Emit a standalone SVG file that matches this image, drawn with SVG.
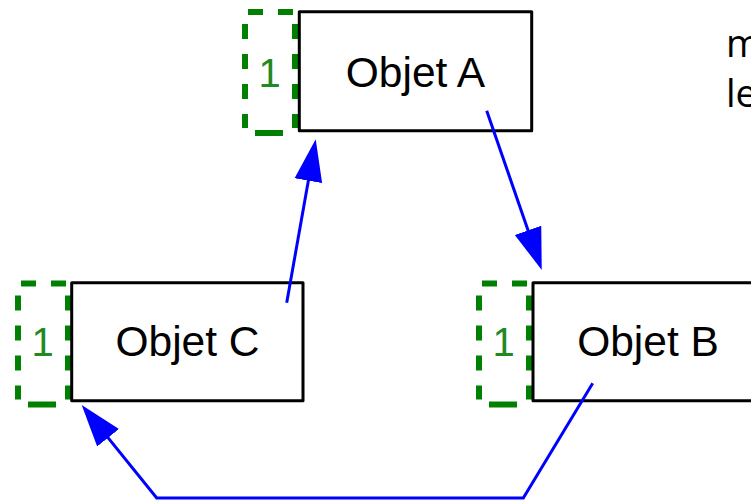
<svg xmlns="http://www.w3.org/2000/svg" xmlns:xlink="http://www.w3.org/1999/xlink" width="751" height="500" viewBox="0 0 751 500">
  <style>
    .box { fill: #ffffff; stroke: #000000; stroke-width: 3; stroke-linejoin: round; }
    .label { font-family: "Liberation Sans", Arial, sans-serif; font-size: 42.5px; fill: #000000; text-anchor: middle; }
    .count { font-family: "Liberation Sans", Arial, sans-serif; font-size: 40px; fill: #1f8a1f; text-anchor: middle; }
    .dash { fill: none; stroke: #008000; stroke-width: 6; stroke-dasharray: 15 15; }
    .solid { fill: none; stroke: #008000; stroke-width: 6; }
    .conn { fill: none; stroke: #0000ff; stroke-width: 3; stroke-linejoin: miter; }
    .note { font-family: "Open Sans", "DejaVu Sans", sans-serif; font-size: 38px; fill: #000000; }
  </style>
  <defs>
    <g id="badge">
      <path class="dash" d="M3,0 H48 M0,12 V116 M50,12 V116"/>
      <path class="solid" d="M10,121 H38"/>
    </g>
    <marker id="arrow" markerUnits="userSpaceOnUse" markerWidth="44" markerHeight="30" refX="22" refY="14" orient="auto" viewBox="0 0 44 28">
      <path d="M0,0 L42,14 L0,28 Z" fill="#0000ff"/>
    </marker>
  </defs>

  <g id="objetA">
    <use xlink:href="#badge" x="245" y="12"/>
    <text class="count" x="269.5" y="86.7">1</text>
    <rect class="box" x="299.3" y="11.7" width="232.4" height="119"/>
    <text class="label" x="415.5" y="86.5">Objet A</text>
  </g>

  <g id="objetC">
    <use xlink:href="#badge" x="18" y="283.5"/>
    <text class="count" x="42.5" y="356">1</text>
    <rect class="box" x="71.7" y="282.7" width="231.3" height="118"/>
    <text class="label" x="187.5" y="356">Objet C</text>
  </g>

  <g id="objetB">
    <use xlink:href="#badge" x="479" y="283.5"/>
    <text class="count" x="503.5" y="356">1</text>
    <rect class="box" x="533" y="282.7" width="231" height="118"/>
    <text class="label" x="648" y="356">Objet B</text>
  </g>

  <g id="note">
    <text class="note" x="726" y="56.7">m</text>
    <text class="note" x="726" y="106.5">le</text>
  </g>

  <g id="connectors">
    <path class="conn" d="M486.7,110.7 L535.2,251.1" marker-end="url(#arrow)"/>
    <path class="conn" d="M286.7,302.7 L312.2,159" marker-end="url(#arrow)"/>
    <path class="conn" d="M592.7,383.3 L523.3,498 L156.7,498 L94.25,420.6" marker-end="url(#arrow)"/>
  </g>
</svg>
